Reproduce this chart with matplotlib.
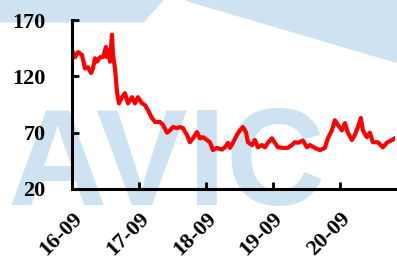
import matplotlib
matplotlib.use("Agg")
import matplotlib.pyplot as plt
from matplotlib.patches import Polygon

# decimal years (16.667 = 2016-09) and index level
years = [16.667, 16.712, 16.757, 16.816, 16.861, 16.906, 16.951, 16.980, 17.010, 17.040,
         17.085, 17.130, 17.174, 17.189, 17.219, 17.234, 17.264, 17.279, 17.309, 17.339,
         17.368, 17.413, 17.458, 17.503, 17.563, 17.607, 17.652, 17.712, 17.757, 17.801,
         17.861, 17.906, 17.980, 18.025, 18.085, 18.130, 18.174, 18.234, 18.279, 18.324,
         18.383, 18.428, 18.473, 18.533, 18.577, 18.622, 18.682, 18.727, 18.772, 18.831,
         18.906, 18.951, 18.996, 19.026, 19.070, 19.130, 19.174, 19.219, 19.264, 19.294,
         19.354, 19.398, 19.443, 19.503, 19.548, 19.592, 19.652, 19.697, 19.742, 19.816,
         19.891, 19.951, 19.995, 20.040, 20.115, 20.174, 20.219, 20.294, 20.368, 20.443,
         20.488, 20.547, 20.592, 20.637, 20.697, 20.742, 20.786, 20.846, 20.891, 20.936,
         20.980, 21.010, 21.070, 21.115, 21.159, 21.234, 21.309, 21.368, 21.443, 21.488]
values = [143, 137, 141.5, 139, 127, 128, 123, 127, 136, 133,
          137, 137, 146, 137, 143, 133, 157, 139, 127, 106,
          96, 101.5, 105, 96, 101.5, 96, 101.5, 96, 94.5, 90,
          83, 79.5, 79.5, 77, 70, 72, 75, 74, 75, 74,
          68, 61.5, 65, 70.5, 65, 66, 63.5, 61.5, 54.5, 56.5,
          55, 57, 61, 56.5, 61, 68, 72, 75, 70.5, 61.5,
          59, 63.5, 57, 59, 57, 61, 65, 61, 57, 56.5,
          56.5, 59, 61.5, 61, 63, 57, 59, 56.5, 54.5, 56.5,
          65, 72, 81, 77, 72, 78.5, 70, 63.5, 68, 75,
          83, 72, 66, 70, 61.5, 61.5, 57, 61, 63.5, 65]

tick_pos = [16.667, 17.667, 18.667, 19.667, 20.667]
tick_labels = ["16-09", "17-09", "18-09", "19-09", "20-09"]
y_ticks = [20, 70, 120, 170]

fig = plt.figure(figsize=(3.97, 2.59), dpi=100)

# light blue watermark behind the chart
wm = "#cde3f2"
fig.patches.append(Polygon([[0, 1], [163 / 397, 1], [143 / 397, 1 - 22 / 259], [0, 1 - 22 / 259]],
                           closed=True, transform=fig.transFigure, color=wm, zorder=-2))
fig.patches.append(Polygon([[186 / 397, 1], [1, 1], [1, 1 - 62 / 259]],
                           closed=True, transform=fig.transFigure, color=wm, zorder=-2))
fig.text(8 / 397, 1 - 205 / 259, "AVIC", family="Liberation Sans", weight="bold",
         fontsize=99, color=wm, va="baseline", ha="left", zorder=-1)

ax = fig.add_axes([72 / 397, 1 - 189 / 259, 323 / 397, 169 / 259])
ax.patch.set_alpha(0)
ax.plot(years, values, color="#ff0000", linewidth=3)

ax.set_xlim(16.667, 21.49)
ax.set_ylim(20, 170)
ax.set_yticks(y_ticks)
ax.set_xticks(tick_pos)
ax.set_xticklabels(tick_labels, rotation=45, ha="right", rotation_mode="anchor")

for s in ["top", "right"]:
    ax.spines[s].set_visible(False)
for s in ["left", "bottom"]:
    ax.spines[s].set_linewidth(2.2)

ax.tick_params(direction="in", length=5, width=2)
ax.tick_params(axis="y", pad=19)
ax.tick_params(axis="x", pad=14)
for lab in ax.get_xticklabels() + ax.get_yticklabels():
    lab.set_family("Liberation Serif")
    lab.set_weight("bold")
    lab.set_fontsize(16)

fig.savefig("out.png", dpi=100)
